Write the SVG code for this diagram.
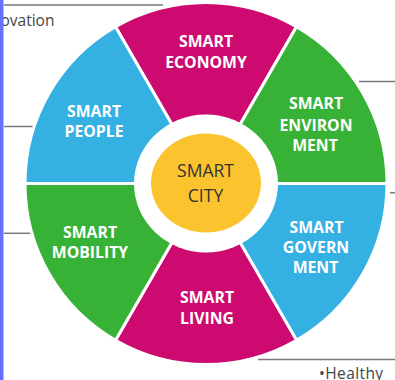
<svg xmlns="http://www.w3.org/2000/svg" width="395" height="380" viewBox="0 0 395 380">
<style>
.seg{stroke:#fff;stroke-width:3;stroke-linejoin:round}
.mag{fill:#cc0a6f}
.blu{fill:#35b0e3}
.grn{fill:#38b236}
.lbl{font-family:"Open Sans","Liberation Sans",sans-serif;font-weight:700;font-size:15.8px;fill:#fff;text-anchor:middle}
.ctr{font-family:"Open Sans","Liberation Sans",sans-serif;font-weight:500;font-size:17.5px;fill:#333;text-anchor:middle}
.ext{font-family:"Open Sans","Liberation Sans",sans-serif;font-size:15.5px;fill:#444}
.ln{stroke:#7a7a7a;stroke-width:1.5;fill:none}
</style>
<rect x="0" y="0" width="395" height="380" fill="#fff"/>
<g id="connectors">
<line class="ln" x1="4" y1="5" x2="163" y2="5"/>
<line class="ln" x1="4" y1="126.5" x2="33" y2="126.5"/>
<line class="ln" x1="4" y1="233.3" x2="31" y2="233.3"/>
<line class="ln" x1="359" y1="81.5" x2="395" y2="81.5"/>
<line class="ln" x1="390" y1="192.7" x2="395" y2="192.7"/>
<line class="ln" x1="258" y1="359.5" x2="395" y2="359.5"/>
</g>
<text class="ext" x="0.5" y="26">ovation</text>
<text class="ext" x="319" y="378.5" letter-spacing="0.4">•Healthy</text>
<g id="smart-economy">
<path class="seg mag" d="M206 183.5 L115.5 26.75 A181 181 0 0 1 296.5 26.75 Z"/>
<text class="lbl" x="206" y="47">SMART</text>
<text class="lbl" x="206" y="67.7">ECONOMY</text>
</g>
<g id="smart-environment">
<path class="seg grn" d="M206 183.5 L296.5 26.75 A181 181 0 0 1 387 183.5 Z"/>
<text class="lbl" x="316" y="109">SMART</text>
<text class="lbl" x="316" y="130.5">ENVIRON</text>
<text class="lbl" x="315" y="150.5">MENT</text>
</g>
<g id="smart-government">
<path class="seg blu" d="M206 183.5 L387 183.5 A181 181 0 0 1 296.5 340.25 Z"/>
<text class="lbl" x="316.5" y="232.7">SMART</text>
<text class="lbl" x="316" y="253.3">GOVERN</text>
<text class="lbl" x="315.5" y="273.3">MENT</text>
</g>
<g id="smart-living">
<path class="seg mag" d="M206 183.5 L296.5 340.25 A181 181 0 0 1 115.5 340.25 Z"/>
<text class="lbl" x="207" y="303">SMART</text>
<text class="lbl" x="207" y="323.5">LIVING</text>
</g>
<g id="smart-mobility">
<path class="seg grn" d="M206 183.5 L115.5 340.25 A181 181 0 0 1 25 183.5 Z"/>
<text class="lbl" x="90" y="238.3">SMART</text>
<text class="lbl" x="90" y="258.3">MOBILITY</text>
</g>
<g id="smart-people">
<path class="seg blu" d="M206 183.5 L25 183.5 A181 181 0 0 1 115.5 26.75 Z"/>
<text class="lbl" x="94" y="116.7">SMART</text>
<text class="lbl" x="94" y="136.7">PEOPLE</text>
</g>
<g id="smart-city">
<ellipse cx="206" cy="183.5" rx="72" ry="69" fill="#fff"/>
<ellipse cx="206" cy="183" rx="55" ry="49.5" fill="#fbc32d"/>
<text class="ctr" x="205.5" y="177.3">SMART</text>
<text class="ctr" x="205.5" y="201.7">CITY</text>
</g>
<rect x="0" y="0" width="3.5" height="380" fill="#6670ff"/>
</svg>
